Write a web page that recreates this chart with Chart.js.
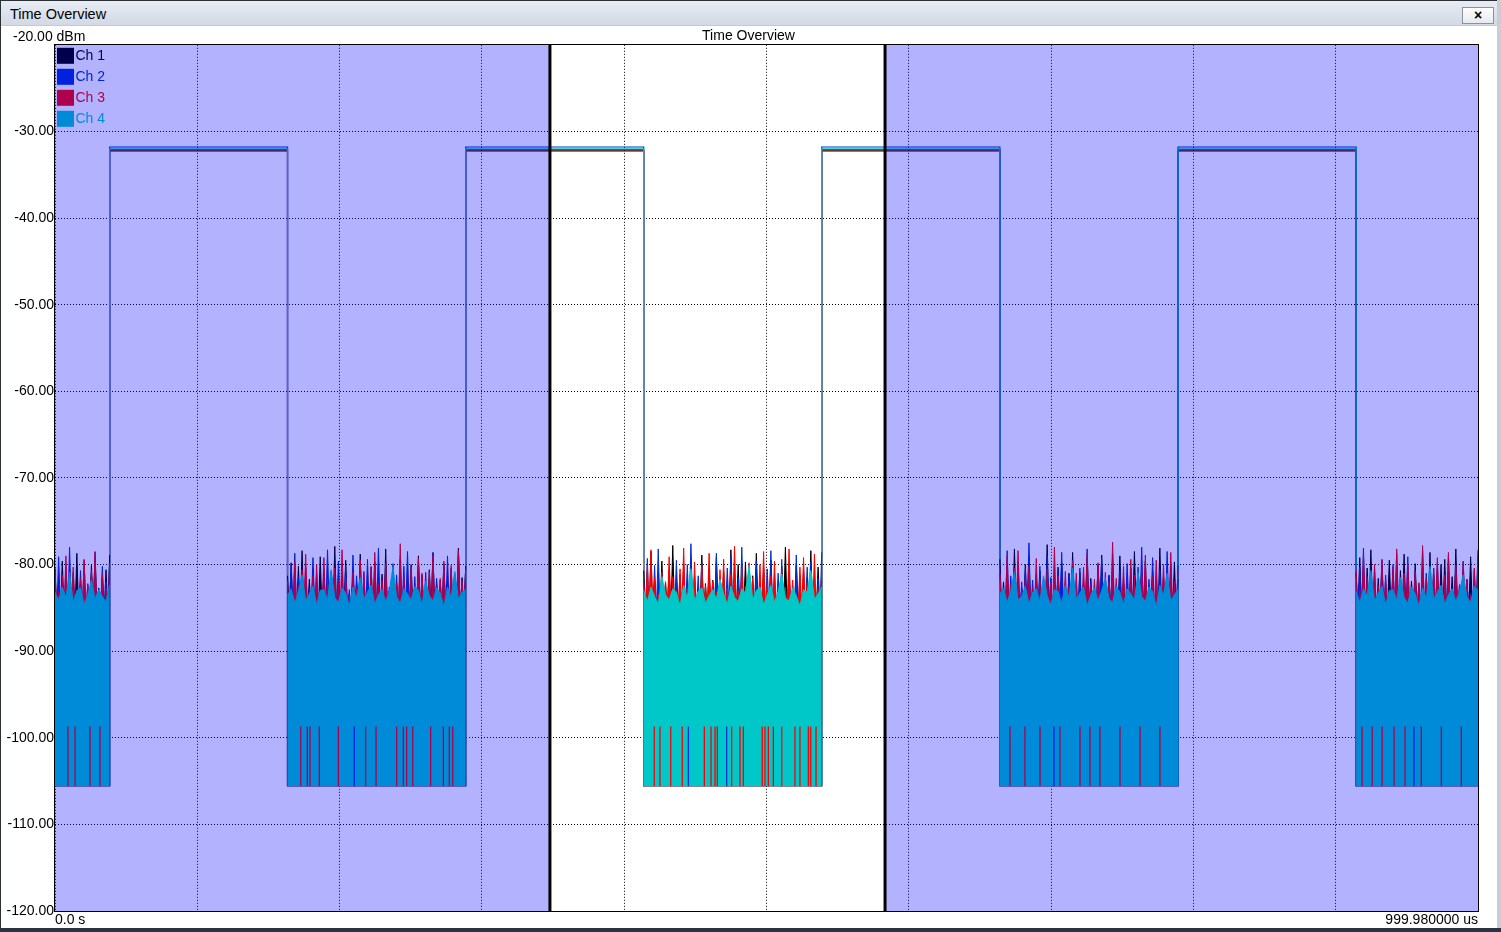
<!DOCTYPE html>
<html>
<head>
<meta charset="utf-8">
<title>Time Overview</title>
<script src="https://cdn.jsdelivr.net/npm/chart.js@4.4.1/dist/chart.umd.min.js"></script>
<style>
html, body { margin: 0; padding: 0; background: #fff; width: 1501px; height: 932px; overflow: hidden;
  font-family: "Liberation Sans", Arial, sans-serif; }
#titlebar { position: absolute; left: 0; top: 0; width: 1497px; height: 26px; box-sizing: border-box;
  background: linear-gradient(#e8ecf3, #d2d9e5); border-top: 1px solid #2b2f36; border-bottom: 1px solid #c3cad5;
  font-size: 14.5px; line-height: 27px; padding-left: 10px; color: #000; }
#closebtn { position: absolute; left: 1462px; top: 6px; width: 32px; height: 17px; box-sizing: border-box;
  border: 1px solid #8b929c; background: linear-gradient(#fdfdfe, #e6eaf0); font-size: 14px; font-weight: bold;
  text-align: center; line-height: 14px; }
#chartbox { position: absolute; left: 0; top: 27px; width: 1497px; height: 901px; }
#leftedge { position: absolute; left: 0; top: 0; width: 1px; height: 928px; background: #2b2f36; z-index: 5; }
#rightedge { position: absolute; left: 1497px; top: 0; width: 4px; height: 928px; background: #c9ced6; }
#bottomedge { position: absolute; left: 0; top: 928px; width: 1501px; height: 4px; background: #2a3340; }
</style>
</head>
<body>
<div id="titlebar">Time Overview<div id="closebtn">×</div></div>
<div id="chartbox"><canvas id="trace"></canvas></div>
<div id="leftedge"></div>
<div id="rightedge"></div>
<div id="bottomedge"></div>
<script>
// axis
const yTicks = [-120, -110, -100, -90, -80, -70, -60, -50, -40, -30, -20];
const yUnit = 'dBm';
const xGridTimes = [0, 99.998, 199.996, 299.994, 399.992, 499.99, 599.988, 699.986, 799.984, 899.982, 999.98];
const xEndLabels = ['0.0 s', '999.980000 us'];

// channels
const channelNames = ['Ch 1', 'Ch 2', 'Ch 3', 'Ch 4'];
const channelColors = ['#000000', '#0030cf', '#fb0000', '#00c8c8'];

// burst timing (us) and levels (dBm)
const edgeTimes = [38.4, 163.4, 288.6, 413.7, 538.8, 664.0, 789.2, 914.3];
const pulseLevels = [-32.25, -31.8, -32.1, -32.0];
const noiseFloor = -105.6;
const bandBottom = -98.7;
const spikeTrough = -85.5;
const noiseSpans = [[0, 38.4], [163.4, 288.6], [413.7, 538.8], [664.0, 789.2], [914.3, 999.98]];
const gateTimes = [347.8, 583.3];

// noise peaks
const ch1Noise = [
  [-80.4,-82.1,-79.6,-81.8,-83.0,-80.9,-78.7,-82.4,-81.2,-83.5,-80.1,-79.3,-82.7,-81.5,-80.6,-78.9],
  [-81.3,-79.8,-82.6,-80.2,-78.4,-83.1,-81.7,-80.5,-82.9,-79.1,-81.0,-83.6,-80.8,-77.9,-82.2,-81.4,-79.5,-83.3,-80.7,-82.0,-78.8,-81.9,-83.8,-80.3,-79.7,-82.5,-81.1,-78.2,-83.0,-80.9,-82.3,-79.4,-81.6,-84.0,-80.0,-82.8,-79.0,-81.2,-83.4,-80.6,-78.6,-82.1,-81.8,-79.9,-83.2,-80.4,-82.7,-78.1,-81.5,-80.2],
  [-80.7,-82.4,-78.5,-81.9,-83.3,-79.6,-82.0,-80.8,-77.8,-81.6,-83.7,-80.1,-82.5,-79.3,-81.4,-83.0,-78.9,-82.2,-80.5,-81.8,-79.2,-83.5,-80.9,-82.6,-78.3,-81.1,-80.0,-83.1,-79.7,-82.8,-81.3,-78.7,-82.3,-80.4,-83.9,-79.5,-81.7,-82.9,-80.2,-78.0,-81.0,-83.4,-79.9,-82.1,-80.6,-81.5,-78.4,-82.7,-80.3,-81.9],
  [-79.4,-82.0,-80.6,-83.2,-78.2,-81.5,-82.8,-80.0,-79.1,-83.6,-81.2,-80.7,-82.4,-77.7,-81.8,-83.0,-80.3,-79.8,-82.6,-81.0,-78.6,-83.4,-80.9,-82.2,-79.3,-81.6,-83.8,-80.1,-78.9,-82.9,-81.3,-80.5,-82.5,-79.0,-81.9,-83.1,-80.4,-78.5,-82.3,-81.1,-79.6,-83.3,-80.8,-82.0,-78.1,-81.4,-82.7,-80.2,-79.7,-81.7],
  [-81.0,-79.2,-82.5,-80.4,-78.3,-83.0,-81.6,-80.1,-82.8,-79.5,-81.3,-83.5,-80.7,-78.8,-82.1,-81.9,-79.9,-83.2,-80.5,-82.4,-78.6,-81.2,-83.7,-80.0,-79.4,-82.6,-81.4,-78.2,-82.9,-80.8,-81.7,-79.1,-83.3,-80.3]
];
const ch2Noise = [
  [-81.6,-79.1,-82.8,-80.3,-78.0,-81.9,-83.2,-80.7,-79.5,-82.3,-81.0,-78.6,-83.4,-80.2,-82.0,-79.8],
  [-82.2,-80.0,-78.7,-81.5,-83.3,-80.4,-82.7,-79.2,-81.1,-83.9,-80.6,-78.3,-82.4,-81.8,-79.6,-83.0,-80.1,-82.9,-78.9,-81.3,-83.5,-80.8,-79.4,-82.1,-81.7,-78.1,-83.1,-80.5,-82.6,-79.9,-81.2,-83.7,-80.2,-78.5,-82.0,-81.4,-79.7,-83.2,-80.9,-82.3,-78.8,-81.6,-83.6,-80.3,-79.0,-82.5,-81.0,-78.4,-82.8,-80.7],
  [-81.8,-79.3,-82.9,-80.1,-78.2,-81.4,-83.0,-80.6,-82.2,-79.5,-81.1,-83.4,-80.0,-77.6,-82.5,-81.3,-79.8,-83.6,-80.9,-82.0,-78.7,-81.7,-83.1,-80.4,-79.1,-82.7,-81.5,-78.0,-83.3,-80.2,-82.4,-79.6,-81.9,-83.8,-80.5,-78.4,-82.1,-81.0,-79.4,-83.2,-80.8,-82.6,-78.9,-81.2,-83.5,-80.3,-79.7,-82.3,-81.6,-78.6],
  [-80.9,-82.7,-78.4,-81.3,-83.1,-79.7,-82.0,-80.5,-77.5,-81.8,-83.4,-80.2,-82.6,-79.0,-81.5,-83.7,-80.8,-78.6,-82.3,-81.1,-79.5,-83.0,-80.4,-82.8,-78.2,-81.9,-83.3,-80.0,-79.3,-82.5,-81.2,-78.8,-83.6,-80.7,-82.1,-79.9,-81.4,-83.2,-80.3,-78.0,-82.4,-81.7,-79.2,-83.5,-80.6,-82.9,-78.5,-81.0,-82.2,-80.1],
  [-82.0,-80.3,-78.1,-81.7,-83.4,-80.6,-82.5,-79.4,-81.2,-83.8,-80.0,-78.7,-82.8,-81.5,-79.1,-83.1,-80.8,-82.2,-78.4,-81.0,-83.6,-80.4,-79.8,-82.6,-81.3,-78.9,-83.0,-80.2,-82.4,-79.6,-81.8,-83.3,-80.7,-78.3]
];
const ch3Noise = [
  [-80.8,-83.1,-81.2,-79.0,-82.5,-80.3,-83.7,-81.6,-79.4,-82.2,-80.7,-78.5,-83.3,-81.0,-82.8,-80.1],
  [-81.9,-83.5,-79.7,-82.4,-80.6,-78.8,-83.2,-81.3,-80.0,-82.9,-79.2,-81.7,-84.1,-80.4,-82.0,-78.3,-81.5,-83.6,-80.9,-82.7,-79.5,-81.1,-83.0,-80.2,-78.6,-82.3,-81.8,-79.9,-83.4,-80.7,-82.1,-77.6,-81.4,-83.8,-80.3,-82.6,-79.3,-81.0,-83.1,-80.8,-78.9,-82.5,-81.6,-79.6,-83.3,-80.1,-82.2,-78.4,-81.9,-80.5],
  [-82.3,-80.1,-78.3,-81.6,-83.4,-80.9,-82.0,-79.1,-81.4,-83.0,-80.5,-78.1,-82.7,-81.2,-79.7,-83.5,-80.2,-82.4,-78.7,-81.9,-83.2,-80.6,-79.4,-82.8,-81.1,-77.9,-83.1,-80.4,-82.5,-79.8,-81.5,-83.7,-80.0,-78.5,-82.2,-81.3,-79.6,-83.3,-80.7,-82.6,-78.2,-81.8,-83.6,-80.3,-79.2,-82.1,-81.0,-78.8,-82.9,-80.8],
  [-81.1,-83.3,-79.0,-82.2,-80.4,-78.4,-83.0,-81.5,-80.1,-82.7,-79.3,-81.8,-83.9,-80.6,-82.1,-78.0,-81.3,-83.5,-80.8,-82.5,-79.6,-81.0,-83.2,-80.3,-78.7,-82.4,-81.7,-79.8,-83.6,-80.9,-82.0,-77.4,-81.6,-83.1,-80.2,-82.8,-79.4,-81.2,-83.4,-80.5,-78.9,-82.6,-81.4,-79.5,-83.7,-80.0,-82.3,-78.6,-81.9,-80.7],
  [-80.6,-82.9,-78.8,-81.4,-83.2,-80.0,-82.4,-79.5,-81.7,-83.6,-80.3,-78.2,-82.6,-81.0,-79.9,-83.4,-80.8,-82.1,-77.8,-81.5,-83.0,-80.5,-79.2,-82.7,-81.2,-78.6,-83.3,-80.1,-82.3,-79.7,-81.8,-83.5,-80.4,-78.9]
];
const ch4Noise = [
  [-83.2,-84.1,-82.6,-83.8,-80.9,-84.4,-83.0,-82.7,-84.6,-83.5,-81.8,-84.0,-82.9,-83.7,-84.3,-82.4],
  [-83.6,-82.8,-84.5,-83.1,-81.2,-84.2,-83.4,-82.5,-84.7,-83.0,-82.9,-84.1,-80.6,-83.8,-84.4,-82.7,-83.3,-84.8,-82.6,-83.9,-81.5,-84.0,-83.2,-82.4,-84.6,-83.5,-82.9,-84.3,-83.1,-80.3,-83.7,-84.5,-82.8,-83.4,-84.1,-82.5,-83.0,-84.7,-81.9,-83.6,-84.2,-82.7,-83.3,-84.9,-82.6,-83.8,-80.8,-84.0,-83.2,-82.9],
  [-83.0,-84.3,-82.6,-83.7,-84.6,-81.4,-83.5,-84.1,-82.8,-83.2,-84.8,-82.4,-83.9,-80.5,-84.2,-83.1,-82.7,-84.5,-83.6,-82.9,-84.0,-81.7,-83.4,-84.6,-82.5,-83.8,-84.3,-82.8,-83.3,-80.1,-84.1,-83.0,-82.6,-84.7,-83.5,-82.4,-84.4,-83.1,-81.1,-83.9,-84.2,-82.7,-83.6,-84.8,-82.9,-83.2,-80.7,-84.0,-83.4,-82.6],
  [-83.4,-82.7,-84.4,-83.0,-80.8,-84.1,-83.7,-82.5,-84.6,-83.2,-82.8,-84.3,-81.3,-83.6,-84.7,-82.9,-83.1,-84.5,-82.4,-83.8,-80.4,-84.0,-83.3,-82.6,-84.8,-83.5,-82.7,-84.2,-83.0,-81.6,-83.9,-84.4,-82.5,-83.2,-84.6,-82.8,-83.4,-84.1,-80.9,-83.7,-84.3,-82.6,-83.1,-84.9,-82.4,-83.6,-81.0,-84.2,-83.5,-82.9],
  [-83.1,-84.4,-82.8,-83.6,-80.7,-84.2,-83.3,-82.5,-84.7,-83.0,-82.9,-84.1,-81.5,-83.8,-84.5,-82.6,-83.4,-84.8,-82.7,-83.9,-80.2,-84.0,-83.2,-82.4,-84.6,-83.5,-82.8,-84.3,-83.1,-81.2,-83.7,-84.4,-82.5,-83.0]
];
const channelNoise = [ch1Noise, ch2Noise, ch3Noise, ch4Noise];

// times (us) where a channel drops to the floor, visible under the dense band
const ch2Dropouts = [210.3, 445.1, 472.0, 702.0, 955.0];
const ch3Dropouts = [9.1, 14.1, 24.6, 31.6,
  172.7, 177.3, 179.2, 185.7, 199.1, 218.3, 225.6, 240.1, 244.8, 247.1, 251.4, 264.0, 272.9, 277.1, 279.5,
  421.1, 425.1, 432.7, 440.8, 456.3, 461.0, 463.8, 465.4, 475.5, 481.4, 483.7, 497.0, 498.9, 501.3, 504.8, 510.7, 520.0, 523.5, 529.4, 531.1, 534.8,
  671.1, 681.6, 692.2, 706.2, 720.3, 727.3, 734.3, 748.4, 762.5, 776.5,
  918.5, 925.6, 932.6, 941.0, 948.7, 960.1, 974.2, 988.2];

const fontFamily = '"Liberation Sans", Arial, sans-serif';
Chart.defaults.font.family = fontFamily;
Chart.defaults.font.size = 14;
Chart.defaults.color = '#000';

// spread each span's peaks over the span; optional trough between peaks; break between spans
function noisePoints(spans, trough) {
  var pts = [];
  spans.forEach(function(vals, s) {
    var t0 = noiseSpans[s][0], t1 = noiseSpans[s][1];
    var dt = (t1 - t0) / (vals.length - 1);
    vals.forEach(function(v, i) {
      if (trough !== undefined && i > 0) pts.push({x: t0 + dt * (i - 0.5), y: trough});
      pts.push({x: t0 + dt * i, y: v});
    });
    pts.push({x: t1, y: null});
  });
  return pts;
}

function pulsePoints(level) {
  var pts = [];
  for (var i = 0; i < edgeTimes.length; i += 2) {
    var r = edgeTimes[i], f = edgeTimes[i + 1];
    pts.push({x: r, y: noiseFloor}, {x: r, y: level}, {x: f, y: level}, {x: f, y: noiseFloor}, {x: f, y: null});
  }
  return pts;
}

function dropoutPoints(times) {
  var pts = [];
  times.forEach(function(t) {
    pts.push({x: t, y: bandBottom}, {x: t, y: noiseFloor}, {x: t, y: null});
  });
  return pts;
}

var pulseOrder = [13, 11, 12, 10];
var datasets = [];
channelNames.forEach(function(name, c) {
  datasets.push({
    label: name,
    data: pulsePoints(pulseLevels[c]),
    borderColor: channelColors[c],
    borderWidth: 1.2,
    pointRadius: 0,
    fill: false,
    order: pulseOrder[c]
  });
  datasets.push({
    label: name + ' noise',
    data: noisePoints(channelNoise[c], c < 3 ? spikeTrough : undefined),
    borderColor: channelColors[c],
    backgroundColor: channelColors[c],
    borderWidth: 1,
    pointRadius: 0,
    fill: {value: noiseFloor},
    order: 4 - c
  });
});
[[ch2Dropouts, 1], [ch3Dropouts, 2]].forEach(function(d) {
  datasets.push({
    label: channelNames[d[1]] + ' floor',
    data: dropoutPoints(d[0]),
    borderColor: channelColors[d[1]],
    borderWidth: 1.3,
    pointRadius: 0,
    fill: false,
    order: 0
  });
});

// legend, dimmed region outside the gate, gate markers, frame
const overlayPlugin = {
  id: 'timeOverlay',
  afterDatasetsDraw: function(chart) {
    var ctx = chart.ctx, a = chart.chartArea;
    var x = chart.scales.x, y = chart.scales.y;
    ctx.save();
    ctx.font = '14px ' + fontFamily;
    ctx.textBaseline = 'middle';
    ctx.textAlign = 'left';
    channelNames.forEach(function(n, i) {
      var top = a.top + 3 + i * 21;
      ctx.fillStyle = channelColors[i];
      ctx.fillRect(a.left + 2, top, 17, 16);
      ctx.fillText(n, a.left + 20.5, top + 8.5);
    });

    var g0 = x.getPixelForValue(gateTimes[0]);
    var g1 = x.getPixelForValue(gateTimes[1]);
    ctx.fillStyle = 'rgba(0,0,255,0.3)';
    ctx.fillRect(a.left, a.top, g0 - a.left, a.bottom - a.top);
    ctx.fillRect(g1, a.top, a.right - g1, a.bottom - a.top);

    ctx.strokeStyle = '#000';
    ctx.lineWidth = 3;
    ctx.beginPath();
    ctx.moveTo(g0, a.top); ctx.lineTo(g0, a.bottom);
    ctx.moveTo(g1, a.top); ctx.lineTo(g1, a.bottom);
    ctx.stroke();

    ctx.lineWidth = 1;
    ctx.strokeRect(Math.round(a.left) - 0.5, Math.round(a.top) - 0.5,
      Math.round(a.right - a.left) + 1, Math.round(a.bottom - a.top) + 1);

    ctx.fillStyle = '#000';
    var yMax = yTicks[yTicks.length - 1];
    ctx.fillText(yMax.toFixed(2) + ' ' + yUnit, 13, y.getPixelForValue(yMax) - 8);
    ctx.restore();
  }
};

new Chart(document.getElementById('trace'), {
  type: 'line',
  data: {datasets: datasets},
  plugins: [overlayPlugin],
  options: {
    responsive: true,
    maintainAspectRatio: false,
    animation: false,
    spanGaps: false,
    layout: {padding: 0},
    elements: {line: {tension: 0}},
    plugins: {
      legend: {display: false},
      tooltip: {enabled: false},
      title: {display: true, text: 'Time Overview', color: '#000',
        font: {size: 14, weight: 'normal'}, padding: {top: 1, bottom: 0}}
    },
    scales: {
      x: {
        type: 'linear',
        min: xGridTimes[0],
        max: xGridTimes[xGridTimes.length - 1],
        afterBuildTicks: function(s) { s.ticks = xGridTimes.map(function(v) { return {value: v}; }); },
        afterFit: function(s) { s.height = 17; },
        ticks: {
          autoSkip: false, maxRotation: 0, align: 'inner', padding: 1, color: '#000',
          callback: function(v, i, arr) {
            if (i === 0) return xEndLabels[0];
            if (i === arr.length - 1) return xEndLabels[1];
            return '';
          }
        },
        grid: {color: '#000', lineWidth: 1, drawTicks: false},
        border: {display: false, dash: [1, 2]}
      },
      y: {
        min: yTicks[0],
        max: yTicks[yTicks.length - 1],
        afterBuildTicks: function(s) { s.ticks = yTicks.map(function(v) { return {value: v}; }); },
        afterFit: function(s) { s.width = 55; },
        ticks: {
          autoSkip: false, padding: 1, color: '#000',
          callback: function(v) { return v === yTicks[yTicks.length - 1] ? '' : Number(v).toFixed(2); }
        },
        grid: {color: '#000', lineWidth: 1, drawTicks: false},
        border: {display: false, dash: [1, 2]}
      },
      // empty strip right of the plot so the title stays centred on the window
      margin: {
        position: 'right',
        min: 0,
        max: 1,
        ticks: {display: false},
        grid: {display: false},
        border: {display: false},
        afterFit: function(s) { s.width = 19; }
      }
    }
  }
});
</script>
</body>
</html>
